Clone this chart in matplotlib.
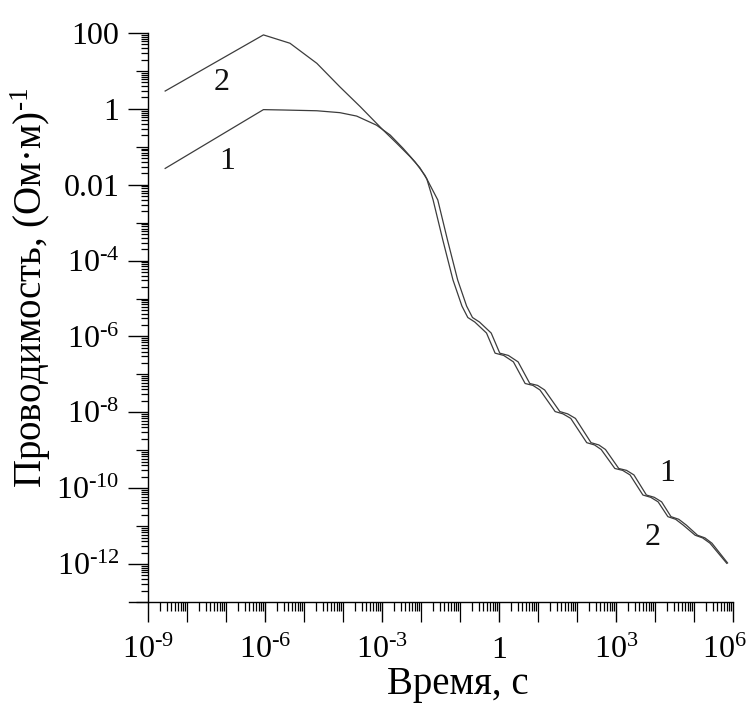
import numpy as np
import matplotlib
matplotlib.use("Agg")
import matplotlib.pyplot as plt
import matplotlib.transforms as mtransforms
from matplotlib.ticker import FixedLocator, FixedFormatter, LogLocator, NullFormatter

plt.rcParams['font.family'] = ['Liberation Serif', 'DejaVu Serif']
plt.rcParams['mathtext.fontset'] = 'custom'
plt.rcParams['mathtext.rm'] = 'Liberation Serif'
plt.rcParams['mathtext.it'] = 'Liberation Serif:italic'
plt.rcParams['mathtext.bf'] = 'Liberation Serif:bold'

# ---- data (log10 of time in s, log10 of conductivity) ----
log_t2 = [-8.56, -6.04, -5.36, -4.67, -4.08, -3.56, -2.97, -2.62, -2.28, -2.03,
          -1.85, -1.69, -1.44, -1.18, -0.95, -0.80, -0.62, -0.32, -0.10, 0.12,
          0.37, 0.67, 0.87, 1.05, 1.44, 1.64, 1.84, 2.25, 2.45, 2.62,
          2.97, 3.17, 3.36, 3.69, 3.89, 4.08, 4.33, 4.53, 4.72, 5.03,
          5.22, 5.41, 5.84]
log_s2 = [0.47, 1.95, 1.73, 1.20, 0.58, 0.06, -0.56, -0.91, -1.26, -1.55,
          -1.85, -2.40, -3.46, -4.51, -5.20, -5.50, -5.62, -5.91, -6.44, -6.50,
          -6.67, -7.24, -7.29, -7.41, -7.98, -8.04, -8.16, -8.80, -8.86, -8.98,
          -9.48, -9.53, -9.65, -10.18, -10.24, -10.36, -10.75, -10.82, -10.97, -11.24,
          -11.31, -11.45, -11.98]

log_t1 = [-8.56, -6.04, -5.53, -4.67, -4.08, -3.65, -3.14, -2.79, -2.46, -2.15,
          -1.90, -1.57, -1.32, -1.06, -0.83, -0.68, -0.50, -0.20, 0.02, 0.24,
          0.49, 0.79, 0.99, 1.17, 1.56, 1.76, 1.96, 2.36, 2.56, 2.73,
          3.07, 3.27, 3.46, 3.78, 3.98, 4.17, 4.41, 4.61, 4.80, 5.09,
          5.28, 5.46, 5.86]
log_s1 = [-1.57, -0.02, -0.03, -0.05, -0.10, -0.19, -0.43, -0.69, -1.04, -1.40,
          -1.75, -2.40, -3.46, -4.51, -5.20, -5.50, -5.62, -5.91, -6.44, -6.50,
          -6.67, -7.24, -7.29, -7.41, -7.98, -8.04, -8.16, -8.80, -8.86, -8.98,
          -9.48, -9.53, -9.65, -10.18, -10.24, -10.36, -10.75, -10.82, -10.97, -11.24,
          -11.31, -11.45, -11.97]

x_tick_vals = [1e-9, 1e-6, 1e-3, 1, 1e3, 1e6]
x_tick_labels = [r'$\mathregular{10^{\text{-}9}}$', r'$\mathregular{10^{\text{-}6}}$',
                 r'$\mathregular{10^{\text{-}3}}$', '1',
                 r'$\mathregular{10^{3}}$', r'$\mathregular{10^{6}}$']
y_tick_vals = [1e2, 1, 1e-2, 1e-4, 1e-6, 1e-8, 1e-10, 1e-12]
y_tick_labels = ['100', '1', '0.01', r'$\mathregular{10^{\text{-}4}}$',
                 r'$\mathregular{10^{\text{-}6}}$', r'$\mathregular{10^{\text{-}8}}$',
                 r'$\mathregular{10^{\text{-}10}}$', r'$\mathregular{10^{\text{-}12}}$']

curve_labels = ['2', '1', '1', '2']
curve_label_x = [7.9e-8, 1.07e-7, 2.1e4, 8.9e3]
curve_label_y = [5.1, 0.040, 2.5e-10, 4.9e-12]

x_label = 'Время, с'
y_label = 'Проводимость, (Ом·м)$^{\\mathregular{\\text{-}1}}$'

# ---- figure ----
fig = plt.figure(figsize=(7.5, 7.04), dpi=100)
ax = fig.add_axes([148/750, 102/704, 585/750, 569/704])
ax.set_xscale('log')
ax.set_yscale('log')

line_color = '#3c3c3c'
ax.plot(10.0**np.array(log_t1), 10.0**np.array(log_s1), color=line_color, lw=0.9)
ax.plot(10.0**np.array(log_t2), 10.0**np.array(log_s2), color=line_color, lw=0.9)

for s, xv, yv in zip(curve_labels, curve_label_x, curve_label_y):
    ax.text(xv, yv, s, fontsize=23, ha='center', va='center', color='#111111')

ax.set_xlim(1e-9, 1e6)
ax.set_ylim(1e-13, 1e2)

for side in ('top', 'right'):
    ax.spines[side].set_visible(False)
for side in ('left', 'bottom'):
    ax.spines[side].set_linewidth(1.0)
ax.spines['bottom'].set_bounds(3.2e-10, 1e6)

ax.xaxis.set_major_locator(FixedLocator(x_tick_vals))
ax.xaxis.set_major_formatter(FixedFormatter(x_tick_labels))
ax.yaxis.set_major_locator(FixedLocator(y_tick_vals))
ax.yaxis.set_major_formatter(FixedFormatter(y_tick_labels))
ax.xaxis.set_minor_locator(LogLocator(base=10, subs=np.arange(1, 10), numticks=100))
ax.yaxis.set_minor_locator(LogLocator(base=10, subs=np.arange(1, 10), numticks=100))
ax.xaxis.set_minor_formatter(NullFormatter())
ax.yaxis.set_minor_formatter(NullFormatter())

ax.tick_params(axis='both', which='major', direction='out', length=14.5, width=1.0,
               labelsize=23, colors='black')
ax.tick_params(axis='x', which='major', pad=10)
ax.tick_params(axis='y', which='major', pad=6)
ax.tick_params(axis='x', which='minor', direction='out', length=6.5, width=0.9)
ax.tick_params(axis='y', which='minor', direction='out', length=5.0, width=0.9)

ax.set_xlabel(x_label, fontsize=28)
ax.set_ylabel(y_label, fontsize=28)
ax.xaxis.set_label_coords((458-148)/585, -0.112)
ax.yaxis.set_label_coords(-0.163, 0.552)

# lengthen the decade ticks that sit among the minor ticks
fig.canvas.draw()
def _adjust(axis, n_len):
    locs = axis.get_minorticklocs()
    ticks = axis.get_minor_ticks(len(locs))
    for loc, t in zip(locs, ticks):
        e = np.log10(loc)
        if abs(e - round(e)) < 1e-6:
            t.tick1line.set_markersize(n_len)
_adjust(ax.xaxis, 14.5)
_adjust(ax.yaxis, 8.5)

# keep the last x tick label inside the canvas
last = ax.xaxis.get_major_ticks()[len(x_tick_vals) - 1].label1
last.set_transform(last.get_transform() +
                   mtransforms.ScaledTranslation(-6/72, 0, fig.dpi_scale_trans))

fig.savefig('out.png', dpi=100, facecolor='white')
